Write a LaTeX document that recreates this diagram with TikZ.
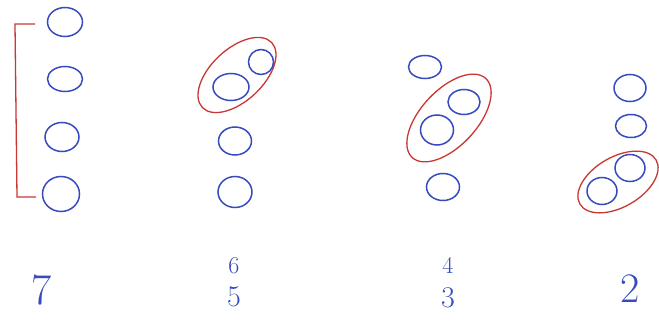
\documentclass[tikz,border=0pt]{standalone}
\usetikzlibrary{shapes.geometric}
\definecolor{penblue}{RGB}{55,75,190}
\definecolor{penred}{RGB}{200,55,50}
\tikzset{
  bead/.style={draw=penblue, line width=1.5pt, ellipse, inner sep=0pt},
  ring/.style={draw=penred, line width=1.3pt, ellipse, inner sep=0pt},
  lbl/.style={text=penblue, font=\fontsize{#1}{#1}\selectfont, inner sep=0pt},
  lbl/.default=28
}
\begin{document}
\begin{tikzpicture}[x=1pt,y=-1pt]
\useasboundingbox (0,0) rectangle (659,324);
% column 1
\node[bead, minimum width=35pt, minimum height=29pt] (a1) at (65,22) {};
\node[bead, minimum width=35pt, minimum height=25pt] (a2) at (65,79) {};
\node[bead, minimum width=34pt, minimum height=29pt] (a3) at (62,137) {};
\node[bead, minimum width=37pt, minimum height=35pt] (a4) at (61,194) {};
\coordinate (bt) at (35,24);
\coordinate (bb) at (36,197);
\draw[penred, line width=1.3pt] (bt) -- (15,24) -- (17,197) -- (bb);
% column 2
\node[ring, minimum width=95pt, minimum height=52pt, rotate=43] (r2) at (237,75) {};
\node[bead, minimum width=25pt, minimum height=25pt] (b1) at (261,62) {};
\node[bead, minimum width=36pt, minimum height=27pt] (b2) at (231,87) {};
\node[bead, minimum width=33pt, minimum height=28pt] (b3) at (235,141) {};
\node[bead, minimum width=34pt, minimum height=31pt] (b4) at (235,192) {};
% column 3
\node[bead, minimum width=33pt, minimum height=23pt] (c1) at (425,67) {};
\node[ring, minimum width=108pt, minimum height=56pt, rotate=47] (r3) at (449,118) {};
\node[bead, minimum width=32pt, minimum height=25pt] (c2) at (464,102) {};
\node[bead, minimum width=33pt, minimum height=30pt] (c3) at (437,130) {};
\node[bead, minimum width=33pt, minimum height=27pt] (c4) at (443,187) {};
% column 4
\node[bead, minimum width=32pt, minimum height=27pt] (d1) at (630,88) {};
\node[bead, minimum width=31pt, minimum height=23pt] (d2) at (631,126) {};
\node[ring, minimum width=88pt, minimum height=50pt, rotate=30] (r4) at (618,182) {};
\node[bead, minimum width=30pt, minimum height=27pt] (d3) at (630,168) {};
\node[bead, minimum width=30pt, minimum height=27pt] (d4) at (602,191) {};
% labels
\node[lbl=44] (n7) at (42,290) {7};
\node[lbl=24] (n6) at (234,266) {6};
\node[lbl=30] (n5) at (234,297) {5};
\node[lbl=24] (n4) at (448,265) {4};
\node[lbl=30] (n3) at (448,298) {3};
\node[lbl=42] (n2) at (630,289) {2};
\end{tikzpicture}
\end{document}
